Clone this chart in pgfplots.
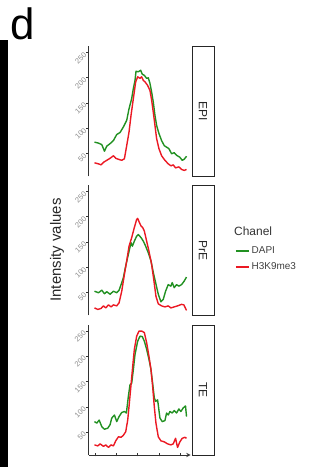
\documentclass[border=0pt]{standalone}
\usepackage{fontspec}
\setmainfont{Liberation Sans}
\usepackage{pgfplots}
\pgfplotsset{compat=1.18}
\definecolor{dgreen}{RGB}{34,145,34}
\definecolor{lred}{RGB}{235,25,35}
\pgfplotsset{
  panel/.style={
    scale only axis, width=102bp, height=130bp,
    xmin=10, xmax=317, ymin=5, ymax=262,
    axis y line=left,
    axis line style={-, draw=black!80, line width=0.9bp},
    ytick={50,100,150,200,250},
    yticklabel style={rotate=45, anchor=east, font=\fontsize{7.5}{7.5}\selectfont, text=black!45, inner sep=1bp},
    /pgf/number format/assume math mode=true,
    tick align=outside, major tick length=2.5bp,
    tick style={black!80, line width=0.8bp},
    anchor=south west,
  },
  gl/.style={dgreen, line width=1.4bp, line join=round},
  rl/.style={lred, line width=1.4bp, line join=round},
}
\begin{document}
\begin{tikzpicture}[x=1bp,y=1bp]
\useasboundingbox (0,0) rectangle (331,471);
\fill[black] (0,4) rectangle (8,431);
\node[anchor=base west, inner sep=0pt, font=\fontsize{44}{44}\selectfont] at (10.5,431) {d};
\node[rotate=90, font=\fontsize{15}{15}\selectfont, text=black!85] at (57,221) {Intensity values};

% Panel EPI
\begin{axis}[panel, at={(88.5bp,294.5bp)}, axis x line=none]
\addplot[gl] coordinates {(28,73)(40,71)(50,68)(58,55)(65,65)(75,70)(85,76)(95,88)(105,92)(115,103)(125,116)(132,139)(140,159)(145,179)(150,195)(153,213)(160,212)(167,215)(172,207)(178,205)(185,199)(190,200)(195,189)(200,172)(205,152)(210,126)(215,106)(222,90)(230,76)(238,66)(245,63)(252,60)(260,50)(268,52)(275,47)(285,43)(292,37)(298,39)(305,45)};
\addplot[rl] coordinates {(28,32)(40,30)(48,28)(55,33)(65,37)(75,41)(85,46)(92,41)(100,39)(110,37)(118,40)(125,66)(132,93)(138,126)(145,159)(152,192)(158,202)(165,199)(170,202)(175,195)(180,192)(188,185)(195,175)(200,156)(205,132)(210,106)(215,80)(222,60)(230,46)(240,37)(250,30)(258,26)(265,28)(272,22)(282,24)(290,19)(298,17)(305,19)};
\end{axis}

% Panel PrE
\begin{axis}[panel, at={(88.5bp,155.5bp)}, axis x line=none,
  legend style={at={(axis description cs:1.436,0.546)}, anchor=north west, draw=none, fill=none, inner sep=0pt,
    font=\fontsize{10}{10}\selectfont, text=black!75,
    nodes={text height=7bp, text depth=2bp, inner sep=2bp}, row sep=3bp, column sep=0bp},
  legend cell align=left,
  legend image code/.code={\draw[#1, line width=1.5bp] (0bp,0bp) -- (13bp,0bp);}]
\addplot[gl] coordinates {(28,53)(40,50)(50,55)(58,48)(65,52)(75,47)(85,53)(95,50)(102,55)(108,66)(115,80)(122,103)(130,126)(138,149)(142,142)(148,152)(155,162)(160,165)(168,159)(175,152)(182,142)(190,129)(198,113)(205,90)(212,70)(220,47)(228,32)(235,37)(242,53)(250,66)(258,63)(262,70)(268,60)(275,66)(282,63)(290,66)(298,73)(305,81)};
\addlegendentry{DAPI}
\addplot[rl] coordinates {(28,20)(38,17)(48,19)(55,24)(62,20)(70,26)(78,22)(85,26)(95,24)(102,30)(110,53)(118,86)(125,113)(132,142)(140,159)(148,179)(155,195)(158,197)(163,189)(168,182)(173,179)(178,172)(185,152)(192,132)(200,106)(207,73)(213,43)(220,28)(230,24)(240,22)(250,24)(258,20)(268,22)(278,24)(290,27)(297,26)(305,15)};
\addlegendentry{H3K9me3}
\end{axis}

% Panel TE
\begin{axis}[panel, at={(88.5bp,16bp)}, axis x line=bottom,
  xtick={30,94,158,222,286}, xticklabels={}, major tick length=3bp]
\addplot[gl] coordinates {(28,71)(35,68)(42,74)(50,61)(58,56)(68,58)(75,65)(80,78)(88,84)(95,71)(102,81)(110,89)(118,91)(124,88)(130,121)(135,144)(140,147)(145,174)(150,204)(158,230)(165,240)(172,239)(178,230)(185,214)(192,194)(198,174)(203,147)(208,118)(212,111)(218,114)(225,78)(232,71)(240,73)(245,88)(250,84)(255,91)(262,88)(268,93)(275,88)(282,96)(288,91)(295,98)(302,102)(305,81)};
\addplot[rl] coordinates {(28,25)(38,23)(45,27)(55,22)(62,25)(70,20)(78,25)(85,23)(92,33)(100,41)(108,40)(115,44)(122,51)(128,74)(133,108)(138,144)(143,180)(148,214)(155,240)(162,250)(170,250)(178,247)(185,227)(192,200)(198,174)(203,141)(208,101)(213,68)(220,41)(228,33)(238,31)(248,27)(258,25)(265,27)(272,38)(278,20)(285,31)(292,38)(300,40)(305,38)};
\end{axis}

% strips
\foreach \yb/\lab in {294.5/EPI, 155.5/PrE, 16/TE}{
  \draw[black!85, line width=0.9bp, fill=white] (192,\yb) rectangle (214,\yb+130);
  \node[rotate=-90, font=\fontsize{12}{12}\selectfont, text=black!85] at (203,\yb+65) {\lab};
}
\node[anchor=west, inner sep=0pt, font=\fontsize{12}{12}\selectfont, text=black!80] at (234,240) {Chanel};
\end{tikzpicture}
\end{document}
